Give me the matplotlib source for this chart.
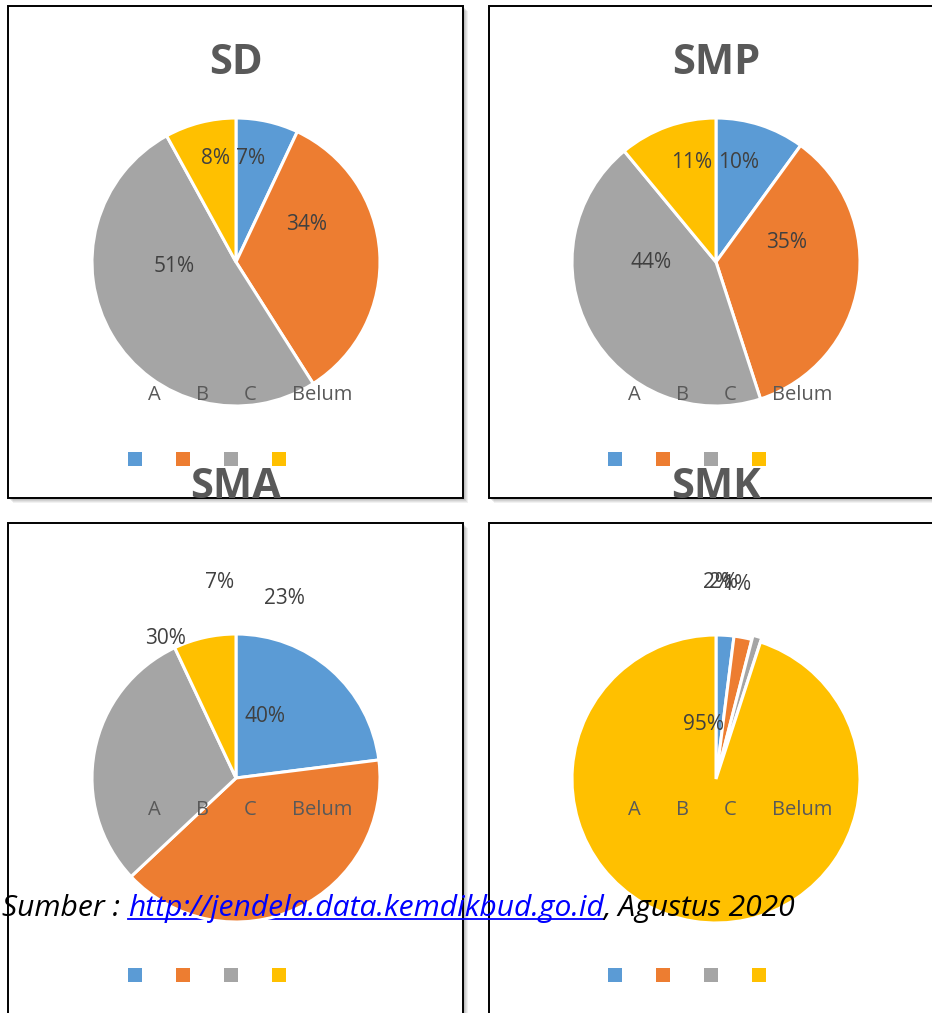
import numpy as np
import matplotlib.pyplot as plt
from matplotlib.patches import Rectangle

plt.rcParams['font.family'] = ['Open Sans', 'DejaVu Sans']

# data persentase per jenjang (A, B, C, Belum)
kategori = ['A', 'B', 'C', 'Belum']
warna = ['#5B9BD5', '#ED7D31', '#A5A5A5', '#FFC000']
judul = ['SD', 'SMP', 'SMA', 'SMK']
sd = [7, 34, 51, 8]
smp = [10, 35, 44, 11]
sma = [23, 40, 30, 7]
smk = [2, 2, 1, 95]

W, H = 932, 1013
fig = plt.figure(figsize=(W / 100, H / 100), dpi=100)

# kanvas latar dalam koordinat piksel
bg = fig.add_axes([0, 0, 1, 1])
bg.set_xlim(0, W)
bg.set_ylim(H, 0)
bg.axis('off')


def kotak(x, y, w, h):
    # bayangan lembut di kanan-bawah
    for i, a in enumerate([0.10, 0.13, 0.16, 0.20]):
        d = 5 - i
        bg.add_patch(Rectangle((x + d, y + d), w, h, facecolor='#7f7f7f',
                               edgecolor='none', alpha=a, zorder=1))
    bg.add_patch(Rectangle((x, y), w, h, facecolor='white',
                           edgecolor='black', linewidth=1.4, zorder=2))


kotak(8, 6, 455, 492)
kotak(489, 6, 460, 492)
kotak(8, 523, 455, 520)
kotak(489, 523, 460, 520)


def txt(x, y, s, **kw):
    return fig.text(x / W, 1 - y / H, s, ha='center', va='center', **kw)


def gambar_pie(cx, cy, nilai, explode=None, r=144):
    pad = 6
    ax = fig.add_axes([(cx - r - pad) / W, 1 - (cy + r + pad) / H,
                       2 * (r + pad) / W, 2 * (r + pad) / H])
    ax.pie(nilai, colors=warna, startangle=90, counterclock=False,
           explode=explode,
           wedgeprops=dict(edgecolor='white', linewidth=2.2))
    lim = (r + pad) / r
    ax.set_xlim(-lim, lim)
    ax.set_ylim(-lim, lim)
    ax.set_aspect('equal')
    ax.axis('off')
    return ax


def legenda(dx, y_lbl, y_box):
    for i, k in enumerate(kategori):
        txt(154 + dx + 48 * i if k != 'Belum' else 322 + dx, y_lbl, k,
            fontsize=14.5, color='#595959')
        bg.add_patch(Rectangle((128 + dx + 48 * i, y_box), 14, 14,
                               facecolor=warna[i], edgecolor='none', zorder=3))


def label_persen(nilai, posisi):
    for v, (x, y) in zip(nilai, posisi):
        txt(x, y + 2, f'{v}%', fontsize=15, color='#404040')


# SD
gambar_pie(236, 262, sd)
label_persen(sd, [(251, 157), (307, 222), (174, 265), (216, 157)])
legenda(0, 395, 452)

# SMP
gambar_pie(716, 262, smp)
label_persen(smp, [(739, 160), (787, 241), (651, 261), (692, 160)])
legenda(480, 395, 452)

# SMA
gambar_pie(236, 778, sma)
label_persen(sma, [(284, 597), (265, 715), (165, 637), (220, 580)])
legenda(0, 810, 968)

# SMK
gambar_pie(716, 779, smk, explode=[0, 0, 0.03, 0])
label_persen(smk, [(717, 581), (724, 581), (737, 582), (703, 723)])
legenda(480, 810, 968)

# judul tiap grafik
for s, (x, y) in zip(judul, [(236, 63), (716, 63), (236, 487), (716, 487)]):
    txt(x, y, s, fontsize=30, fontweight='bold', color='#595959')

# baris sumber data dengan tautan bergaris bawah
fig.canvas.draw()
ren = fig.canvas.get_renderer()
x0 = 2
y_src = 1 - 908 / H
bagian = [('Sumber : ', 'black'), ('http://jendela.data.kemdikbud.go.id', 'blue'),
          (', Agustus 2020', 'black')]
for s, c in bagian:
    t = fig.text(x0 / W, y_src, s, ha='left', va='center', fontsize=21.6,
                 style='italic', color=c)
    bb = t.get_window_extent(ren)
    if c == 'blue':
        bg.plot([bb.x0, bb.x1], [919, 919], color='blue', lw=1.3, zorder=20,
                clip_on=False)
    x0 = bb.x1

fig.savefig('out.png', dpi=100)
